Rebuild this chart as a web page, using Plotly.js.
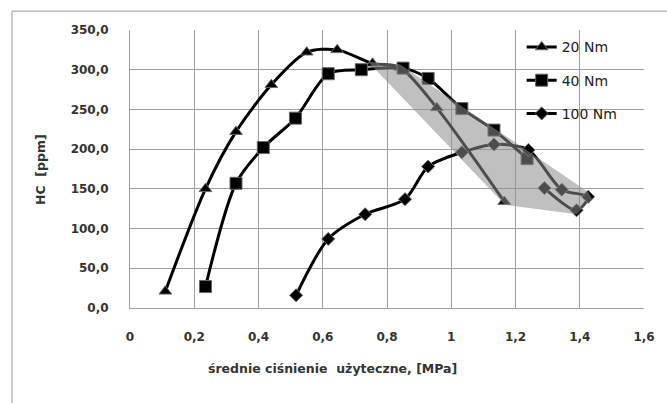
<!DOCTYPE html>
<html>
<head>
<meta charset="utf-8">
<script src="https://cdn.plot.ly/plotly-3.0.1.min.js"></script>
<style>html,body{margin:0;padding:0;background:#fff;}#chart{width:667px;height:403px;}</style>
</head>
<body>
<div id="chart"></div>
<script>
// Series 20 Nm
const x20 = [0.11, 0.235, 0.33, 0.44, 0.55, 0.645, 0.755, 0.84, 0.955, 1.165];
const y20 = [21, 150, 222, 281, 322, 325, 308, 303, 252, 134];
// Series 40 Nm
const x40 = [0.235, 0.33, 0.415, 0.515, 0.617, 0.72, 0.85, 0.928, 1.033, 1.133, 1.236];
const y40 = [27, 157, 202, 239, 295, 300, 302, 289, 251, 224, 188];
// Series 100 Nm
const x100 = [0.517, 0.617, 0.732, 0.856, 0.928, 1.033, 1.133, 1.24, 1.344, 1.426, 1.39, 1.29];
const y100 = [16, 87, 118, 137, 178, 196, 206, 199, 149, 140, 123, 151];
// Grey shaded region (outline)
const shadeX = [0.741, 0.84, 1.426, 1.438, 1.391, 1.167, 0.741];
const shadeY = [310, 307, 146, 138, 118, 130, 310];
const names = ['20 Nm', '40 Nm', '100 Nm'];
const xTitle = 'średnie ciśnienie  użyteczne, [MPa]';
const yTitle = 'HC  [ppm]';

const fam = '"DejaVu Sans", Verdana, sans-serif';
const tickFont = {family: fam, size: 12, color: '#333', weight: 'bold'};
const titleFont = {family: fam, size: 12.5, color: '#333', weight: 'bold'};
const lineStyle = {color: '#000', width: 3, shape: 'spline', smoothing: 0.8};

const traces = [
  {x: x20, y: y20, name: names[0], mode: 'lines+markers', line: lineStyle,
   marker: {symbol: 'triangle-up', size: 11, color: '#000', line: {color: '#666', width: 1}},
   legendgroup: 'a'},
  {x: x40, y: y40, name: names[1], mode: 'lines+markers', line: lineStyle,
   marker: {symbol: 'square', size: 12, color: '#000', line: {color: '#666', width: 1}},
   legendgroup: 'b'},
  {x: x100, y: y100, name: names[2], mode: 'lines+markers', line: lineStyle,
   marker: {symbol: 'diamond', size: 10, color: '#000', line: {color: '#666', width: 1}},
   legendgroup: 'c'},
  {x: shadeX, y: shadeY, mode: 'lines', fill: 'toself', fillcolor: 'rgba(140,140,140,0.55)',
   line: {width: 0, color: 'rgba(0,0,0,0)'}, showlegend: false, hoverinfo: 'skip'}
];

const layout = {
  width: 667, height: 403,
  margin: {l: 130, r: 23, t: 30, b: 95},
  paper_bgcolor: '#fff', plot_bgcolor: '#fff',
  separators: ', ',
  font: {family: fam, size: 12.5, color: '#333'},
  showlegend: true,
  xaxis: {range: [0, 1.6], dtick: 0.2, tick0: 0, showgrid: true, gridcolor: '#a0a0a0', gridwidth: 1,
          zeroline: false, showline: true, linecolor: '#a0a0a0', linewidth: 1, mirror: false,
          ticks: '', ticklabelstandoff: 18, tickfont: tickFont, fixedrange: true},
  yaxis: {range: [0, 350], dtick: 50, tick0: 0, tickformat: '.1f', showgrid: true, gridcolor: '#a0a0a0', gridwidth: 1,
          zeroline: false, showline: true, linecolor: '#a0a0a0', linewidth: 1,
          ticks: '', ticklabelstandoff: 18, tickfont: tickFont, fixedrange: true},
  legend: {x: 0.762, y: 0.995, xanchor: 'left', yanchor: 'top', bgcolor: 'rgba(0,0,0,0)',
           font: {family: fam, size: 14, color: '#222', weight: 'normal'},
           traceorder: 'grouped', tracegroupgap: 12, itemwidth: 30},
  shapes: [
    {type: 'rect', xref: 'paper', yref: 'paper', x0: 0.749, x1: 1.01, y0: 0.64, y1: 0.995,
     fillcolor: '#fff', line: {width: 0}, layer: 'between'},
    {type: 'rect', xref: 'paper', yref: 'paper', x0: -0.2296, x1: 1.3, y0: -0.6, y1: 1.068,
     fillcolor: 'rgba(0,0,0,0)', line: {color: '#9a9a9a', width: 1}, layer: 'below'}
  ],
  annotations: [
    {text: xTitle, xref: 'paper', yref: 'paper', x: (332 - 130) / 514, y: (308 - 368) / 278,
     showarrow: false, font: titleFont, xanchor: 'center', yanchor: 'middle'},
    {text: yTitle, xref: 'paper', yref: 'paper', x: (40 - 130) / 514, y: (308 - 170) / 278,
     showarrow: false, font: titleFont, textangle: -90, xanchor: 'center', yanchor: 'middle'}
  ]
};

Plotly.newPlot('chart', traces, layout, {displayModeBar: false, staticPlot: true});
</script>
</body>
</html>
